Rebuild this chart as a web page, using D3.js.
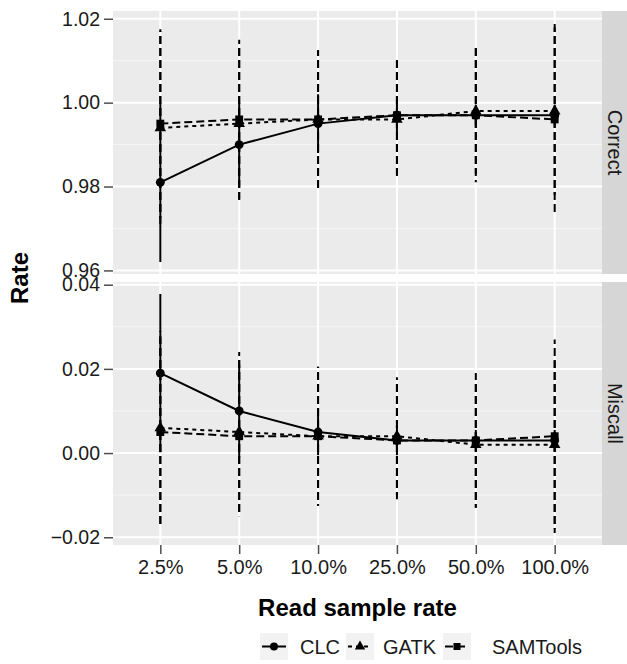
<!DOCTYPE html>
<html>
<head>
<meta charset="utf-8">
<script src="https://cdn.jsdelivr.net/npm/d3@7"></script>
<style>
  body { margin: 0; background: #fff; }
  svg  { display: block; font-family: "Liberation Sans", Arial, sans-serif; }
</style>
</head>
<body>
<svg id="chart" width="627" height="664"></svg>
<script>
// MARK: Data.

const categories = ['2.5%', '5.0%', '10.0%', '25.0%', '50.0%', '100.0%']
const facets     = ['Correct', 'Miscall']
const methods    = ['CLC', 'GATK', 'SAMTools']

const correctCLC     = [0.981, 0.990, 0.995, 0.997, 0.997, 0.997]
const correctCLCErr  = [0.019, 0.010, 0.007, 0.004, 0.0025, 0.0025]
const correctGATK    = [0.994, 0.995, 0.996, 0.996, 0.998, 0.998]
const correctGATKErr = [0.023, 0.019, 0.0165, 0.014, 0.015, 0.020]
const correctSAM     = [0.995, 0.996, 0.996, 0.997, 0.997, 0.996]
const correctSAMErr  = [0.0225, 0.019, 0.0165, 0.014, 0.016, 0.023]

const miscallCLC     = [0.019, 0.010, 0.005, 0.003, 0.003, 0.003]
const miscallCLCErr  = [0.0188, 0.011, 0.0055, 0.0035, 0.0025, 0.0025]
const miscallGATK    = [0.006, 0.005, 0.004, 0.004, 0.002, 0.002]
const miscallGATKErr = [0.023, 0.019, 0.0165, 0.014, 0.015, 0.020]
const miscallSAM     = [0.005, 0.004, 0.004, 0.003, 0.003, 0.004]
const miscallSAMErr  = [0.0225, 0.019, 0.0165, 0.014, 0.016, 0.023]

const correctTicks = [0.96, 0.98, 1.00, 1.02]
const miscallTicks = [-0.02, 0.00, 0.02, 0.04]

// MARK: Layout and styles.

const PANEL_LEFT   = 113
const PANEL_RIGHT  = 602
const STRIP_RIGHT  = 627
const PANEL_TOPS   = [11, 282]
const PANEL_HEIGHT = 263
const DASH_PERIOD  = 12

const styles = {
  CLC     : { dash: null , symbol: d3.symbolCircle  , size: 62 },
  GATK    : { dash: '4,4', symbol: d3.symbolTriangle, size: 58 },
  SAMTools: { dash: '8,4', symbol: d3.symbolSquare  , size: 62 },
}

const panels = [
  { name: facets[0], ticks: correctTicks, series: {
    CLC     : { mean: correctCLC , err: correctCLCErr  },
    GATK    : { mean: correctGATK, err: correctGATKErr },
    SAMTools: { mean: correctSAM , err: correctSAMErr  },
  } },
  { name: facets[1], ticks: miscallTicks, series: {
    CLC     : { mean: miscallCLC , err: miscallCLCErr  },
    GATK    : { mean: miscallGATK, err: miscallGATKErr },
    SAMTools: { mean: miscallSAM , err: miscallSAMErr  },
  } },
]

// MARK: Drawing.

const svg = d3.select('#chart')
const fmt = d3.format('.2f')

const x = d3.scalePoint()
  .domain(categories)
  .range([PANEL_LEFT, PANEL_RIGHT])
  .padding(0.6)

panels.forEach((panel, i) => {
  const top    = PANEL_TOPS[i]
  const bottom = top + PANEL_HEIGHT

  // Free y scale with ggplot's 5% expansion.
  const values = methods.flatMap((m) => panel.series[m].mean
    .flatMap((v, j) => [v - panel.series[m].err[j], v + panel.series[m].err[j]]))
  const [lo, hi] = d3.extent(values)
  const pad = (hi - lo) * 0.05
  const y = d3.scaleLinear().domain([lo - pad, hi + pad]).range([bottom, top])

  const g = svg.append('g').attr('class', 'panel')

  g.append('rect')
    .attr('x'     , PANEL_LEFT)
    .attr('y'     , top)
    .attr('width' , PANEL_RIGHT - PANEL_LEFT)
    .attr('height', PANEL_HEIGHT)
    .attr('fill'  , '#ebebeb')

  // Minor grid lines half way between the major ones.
  const step  = panel.ticks[1] - panel.ticks[0]
  const minor = panel.ticks.map((t) => t + step / 2).concat([panel.ticks[0] - step / 2])
    .filter((t) => t > y.domain()[0] && t < y.domain()[1])
  g.selectAll('.minor').data(minor).enter().append('line')
    .attr('x1', PANEL_LEFT).attr('x2', PANEL_RIGHT)
    .attr('y1', (d) => y(d)).attr('y2', (d) => y(d))
    .attr('stroke', '#f5f5f5').attr('stroke-width', 1)

  g.selectAll('.major').data(panel.ticks).enter().append('line')
    .attr('x1', PANEL_LEFT).attr('x2', PANEL_RIGHT)
    .attr('y1', (d) => y(d)).attr('y2', (d) => y(d))
    .attr('stroke', '#fff').attr('stroke-width', 2)

  g.selectAll('.vgrid').data(categories).enter().append('line')
    .attr('x1', (d) => x(d)).attr('x2', (d) => x(d))
    .attr('y1', top).attr('y2', bottom)
    .attr('stroke', '#fff').attr('stroke-width', 2)

  // Y axis.
  const yAxis = g.append('g')
    .attr('transform', `translate(${PANEL_LEFT},0)`)
    .call(d3.axisLeft(y).tickValues(panel.ticks).tickFormat(fmt).tickSize(9).tickPadding(4))
  yAxis.select('.domain').remove()
  yAxis.selectAll('.tick line').attr('stroke', '#4d4d4d').attr('stroke-width', 1.5)
  yAxis.selectAll('.tick text')
    .attr('font-size', 19.5).attr('fill', '#1a1a1a')
    .attr('font-family', '"Liberation Sans", Arial, sans-serif')

  // Strip.
  g.append('rect')
    .attr('x'     , PANEL_RIGHT)
    .attr('y'     , top)
    .attr('width' , STRIP_RIGHT - PANEL_RIGHT)
    .attr('height', PANEL_HEIGHT)
    .attr('fill'  , '#d6d6d6')
  g.append('text')
    .attr('transform', `translate(${PANEL_RIGHT + 6},${(top + bottom) / 2}) rotate(90)`)
    .attr('text-anchor', 'middle')
    .attr('font-size'  , 20)
    .attr('fill'       , '#1a1a1a')
    .text(panel.name)

  // Lines.
  const line = d3.line().x((d, j) => x(categories[j])).y((d) => y(d))
  methods.forEach((m) => {
    g.append('path')
      .datum(panel.series[m].mean)
      .attr('d', line)
      .attr('fill', 'none')
      .attr('stroke', '#000')
      .attr('stroke-width', 2)
      .attr('stroke-dasharray', styles[m].dash)
  })

  // Error bars; dashes aligned to a common grid so overlapping bars share phase.
  methods.forEach((m) => {
    const s = panel.series[m]
    g.selectAll(`.err-${m}`).data(categories).enter().append('line')
      .attr('x1', (d) => x(d)).attr('x2', (d) => x(d))
      .attr('y1', (d, j) => y(s.mean[j] + s.err[j]))
      .attr('y2', (d, j) => y(s.mean[j] - s.err[j]))
      .attr('stroke', '#000')
      .attr('stroke-width', 2)
      .attr('stroke-dasharray', m === 'CLC' ? null : '8,4')
      .attr('stroke-dashoffset', (d, j) => y(s.mean[j] + s.err[j]) % DASH_PERIOD)
  })

  // Points.
  methods.forEach((m) => {
    const s = panel.series[m]
    g.selectAll(`.pt-${m}`).data(s.mean).enter().append('path')
      .attr('d', d3.symbol(styles[m].symbol, styles[m].size))
      .attr('transform', (d, j) => `translate(${x(categories[j])},${y(d)})`)
      .attr('fill', '#000')
  })

  // X axis on the bottom panel only.
  if (i === panels.length - 1) {
    const xAxis = g.append('g')
      .attr('transform', `translate(0,${bottom})`)
      .call(d3.axisBottom(x).tickSize(9).tickPadding(6))
    xAxis.select('.domain').remove()
    xAxis.selectAll('.tick line').attr('stroke', '#4d4d4d').attr('stroke-width', 1.5)
    xAxis.selectAll('.tick text')
      .attr('font-size', 20).attr('fill', '#1a1a1a')
      .attr('font-family', '"Liberation Sans", Arial, sans-serif')
  }
})

// Axis titles.
svg.append('text')
  .attr('x', (PANEL_LEFT + PANEL_RIGHT) / 2)
  .attr('y', 616)
  .attr('text-anchor', 'middle')
  .attr('font-size', 24)
  .attr('font-weight', 'bold')
  .text('Read sample rate')

svg.append('text')
  .attr('transform', `translate(28,${(PANEL_TOPS[0] + PANEL_TOPS[1] + PANEL_HEIGHT) / 2}) rotate(-90)`)
  .attr('text-anchor', 'middle')
  .attr('font-size', 24)
  .attr('font-weight', 'bold')
  .text('Rate')

// Legend.
const LEGEND_KEY_X   = [260, 346, 443]
const LEGEND_LABEL_X = [300, 383, 492]
const legend = svg.append('g').attr('class', 'legend')
methods.forEach((m, i) => {
  const kx = LEGEND_KEY_X[i]
  const kw = 28
  const ky = 633
  const kh = 27
  legend.append('rect')
    .attr('x', kx).attr('y', ky).attr('width', kw).attr('height', kh)
    .attr('fill', '#f2f2f2')
  legend.append('line')
    .attr('x1', kx + 2).attr('x2', kx + kw - 2)
    .attr('y1', ky + kh / 2).attr('y2', ky + kh / 2)
    .attr('stroke', '#000').attr('stroke-width', 2)
    .attr('stroke-dasharray', styles[m].dash)
  legend.append('path')
    .attr('d', d3.symbol(styles[m].symbol, styles[m].size * 0.8))
    .attr('transform', `translate(${kx + kw / 2},${ky + kh / 2})`)
    .attr('fill', '#000')
  legend.append('text')
    .attr('x', LEGEND_LABEL_X[i])
    .attr('y', ky + kh / 2 + 7)
    .attr('font-size', 20)
    .attr('fill', '#1a1a1a')
    .text(m)
})
</script>
</body>
</html>
